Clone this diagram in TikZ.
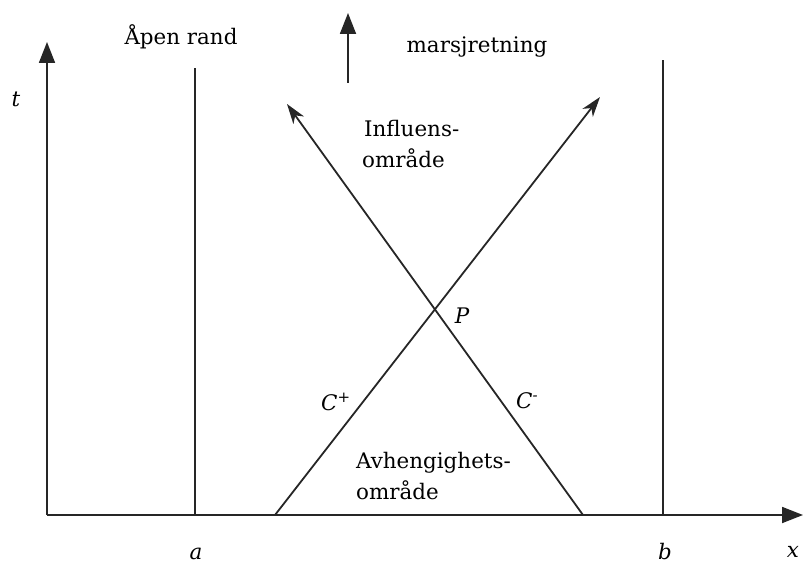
\documentclass[tikz,border=0pt]{standalone}
\usepackage{fontspec}
\setmainfont{DejaVu Serif}
\usetikzlibrary{arrows.meta}
\begin{document}
\begin{tikzpicture}[x=1bp,y=-1bp,
  lbl/.style={inner sep=0pt,anchor=base,font=\fontsize{21.5}{31}\selectfont},
  lblw/.style={lbl,anchor=base west},
  ln/.style={line width=1.8bp,draw=black!85},
  axis/.style={ln,-{Triangle[length=21bp,width=16bp]}},
  chr/.style={ln,-{Stealth[length=20bp,width=13bp,inset=6bp]}}]
\useasboundingbox (0,0) rectangle (803,565);
% axes
\coordinate (O) at (47,515);
\coordinate (T) at (47,42);
\coordinate (X) at (803,515);
\draw[axis] (O) -- (T);
\draw[axis] (O) -- (X);
% boundaries
\coordinate (a0) at (195,515);
\coordinate (a1) at (195,68);
\coordinate (b0) at (663,515);
\coordinate (b1) at (663,60);
\draw[ln] (a0) -- (a1);
\draw[ln] (b0) -- (b1);
% march direction
\coordinate (m0) at (348,83);
\coordinate (m1) at (348,13);
\draw[axis] (m0) -- (m1);
% characteristics
\coordinate (cp0) at (275,515);
\coordinate (cp1) at (600,97);
\coordinate (cm0) at (583,515);
\coordinate (cm1) at (287,104);
\draw[chr] (cp0) -- (cp1);
\draw[chr] (cm0) -- (cm1);
% labels
\node[lbl] (tl) at (16,107) {\itshape t};
\node[lbl] (xl) at (793,557) {\itshape x};
\node[lbl] (al) at (196,559) {\itshape a};
\node[lbl] (bl) at (665,559) {\itshape b};
\node[lbl] (open) at (181,45) {Åpen rand};
\node[lbl] (mars) at (477,53) {marsjretning};
\node[lblw] (infl1) at (364,137) {Influens-};
\node[lblw] (infl2) at (362,168) {område};
\node[lblw] (avh1) at (356,468) {Avhengighets-};
\node[lblw] (avh2) at (356,499) {område};
\node[lbl] (P) at (462,323) {\itshape P};
\node[lblw] (Cp) at (321,410) {\itshape C\textsuperscript{+}};
\node[lblw] (Cm) at (516,408) {\itshape C\textsuperscript{-}};
\end{tikzpicture}
\end{document}
